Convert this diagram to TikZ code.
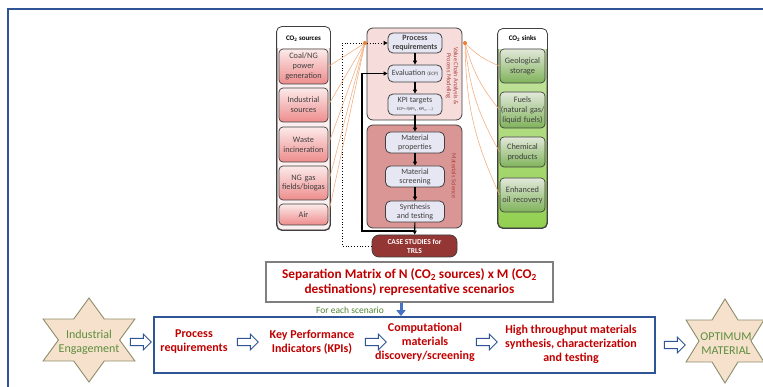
\documentclass[tikz,border=0pt]{standalone}
\usepackage{fontspec}
\setmainfont{Carlito}
\usetikzlibrary{shapes.arrows,arrows.meta,calc}
\definecolor{frameblue}{HTML}{2F5597}
\definecolor{edge}{HTML}{404040}
\definecolor{srctop}{HTML}{FCEAEA}
\definecolor{srcbot}{HTML}{EE8C8C}
\definecolor{srccolfill}{HTML}{FBEFEF}
\definecolor{sinktop}{HTML}{E2E8DA}
\definecolor{sinkbot}{HTML}{7FB35A}
\definecolor{sinkcoltop}{HTML}{CDE7B0}
\definecolor{sinkcolbot}{HTML}{92D050}
\definecolor{vcfill}{HTML}{F6DCDB}
\definecolor{msfill}{HTML}{D99694}
\definecolor{innerfill}{HTML}{E7E6F3}
\definecolor{casered}{HTML}{943634}
\definecolor{labelred}{HTML}{A8423D}
\definecolor{orangeline}{HTML}{F4B183}
\definecolor{orangedot}{HTML}{ED7D31}
\definecolor{darkred}{HTML}{C00000}
\definecolor{sepgray}{HTML}{7F7F7F}
\definecolor{scengreen}{HTML}{548235}
\definecolor{starfill}{HTML}{F6E2CC}
\definecolor{staredge}{HTML}{8C8C6A}
\definecolor{startext}{HTML}{5E8E3E}
\definecolor{arrowblue}{HTML}{4472C4}
\definecolor{txtgray}{HTML}{404040}
\tikzset{
  colbox/.style={draw=edge, line width=0.8pt, rounded corners=5pt, minimum width=53pt, inner sep=0pt},
  hdr/.style={font=\bfseries\fontsize{7}{8}\selectfont, text=black, inner sep=0pt},
  srcbox/.style={draw=edge, line width=0.7pt, rounded corners=4pt, top color=srctop, bottom color=srcbot,
    minimum width=49pt, text width=47pt, align=center, inner sep=0pt, font=\fontsize{8.3}{9.8}\selectfont, text=txtgray},
  sinkbox/.style={srcbox, top color=sinktop, bottom color=sinkbot, minimum width=45pt, text width=45pt},
  panel/.style={draw=edge, line width=0.8pt, rounded corners=6pt, minimum width=95pt, inner sep=0pt},
  innerbox/.style={draw=edge, line width=0.8pt, rounded corners=5pt, fill=innerfill, inner sep=0pt,
    align=center, font=\fontsize{8}{9}\selectfont, text=txtgray},
  flow/.style={line width=1.1pt, -{Triangle[length=4pt,width=4pt]}},
  dotflow/.style={dotted, line width=0.8pt, -{Triangle[length=4pt,width=4pt]}},
  fan/.style={orangeline, line width=0.6pt},
  vlabel/.style={rotate=-90, font=\fontsize{6.3}{7}\selectfont, text=labelred, align=center, inner sep=0pt},
  redtext/.style={font=\bfseries\fontsize{12}{14}\selectfont, text=darkred, align=center, inner sep=0pt},
  septext/.style={font=\bfseries\fontsize{13.3}{15}\selectfont, text=darkred, align=center, inner sep=0pt},
  hollow/.style={single arrow, draw=frameblue, fill=white, line width=0.9pt, minimum height=21pt,
    inner sep=3.2pt, single arrow head extend=4.3pt},
  starshape/.style={draw=staredge, fill=starfill, line width=0.9pt, line join=miter},
  startxt/.style={font=\fontsize{12}{14}\selectfont, text=startext, align=center, inner sep=0pt},
}
\begin{document}
\begin{tikzpicture}[x=1pt,y=-1pt]
\useasboundingbox (0,0) rectangle (763,387);
\clip (0,0) rectangle (763,387);
\fill[white] (0,0) rectangle (763,387);
% outer frame
\draw[frameblue, line width=1.6pt] (8,9) rectangle (800,420);

% ---------- CO2 sources column ----------
\node[colbox, fill=srccolfill, minimum height=203pt] (srccol) at (303.5,128.5) {};
\begin{scope}
  \clip[rounded corners=5pt] (srccol.north west) rectangle (srccol.south east);
  \fill[white] (srccol.north west) rectangle ($(srccol.north east)+(0,21)$);
\end{scope}
\draw[draw=edge, line width=0.8pt, rounded corners=5pt] (srccol.north west) rectangle (srccol.south east);
\node[hdr] (srchdr) at (303.5,39) {CO\textsubscript{2} sources};
\node[srcbox, minimum height=35pt] (coal) at (303.5,66.5) {Coal/NG\\power\\generation};
\node[srcbox, minimum height=34pt] (ind) at (303.5,105) {Industrial\\sources};
\node[srcbox, minimum height=35pt] (waste) at (303.5,144.5) {Waste\\incineration};
\node[srcbox, minimum height=34pt] (ngf) at (303.5,183) {NG gas\\fields/biogas};
\node[srcbox, minimum height=21pt] (air) at (303.5,214.5) {Air};

% ---------- CO2 sinks column ----------
\node[colbox, top color=sinkcoltop, bottom color=sinkcolbot, minimum width=49pt, minimum height=199pt] (sinkcol) at (522.5,128.5) {};
\begin{scope}
  \clip[rounded corners=5pt] (sinkcol.north west) rectangle (sinkcol.south east);
  \fill[white] (sinkcol.north west) rectangle ($(sinkcol.north east)+(0,20)$);
\end{scope}
\draw[draw=edge, line width=0.8pt, rounded corners=5pt] (sinkcol.north west) rectangle (sinkcol.south east);
\node[hdr] (sinkhdr) at (522.5,39) {CO\textsubscript{2} sinks};
\node[sinkbox, minimum height=34pt] (geo) at (522.5,66) {Geological\\storage};
\node[sinkbox, minimum height=36pt] (fuels) at (522.5,110) {Fuels\\(natural gas/\\liquid fuels)};
\node[sinkbox, minimum height=30pt] (chem) at (522.5,152) {Chemical\\products};
\node[sinkbox, minimum height=34pt] (eor) at (522.5,195) {Enhanced\\oil recovery};

% ---------- panels ----------
\node[panel, fill=vcfill, minimum height=92pt] (vc) at (414.5,74) {};
\node[panel, fill=msfill, minimum height=103pt] (ms) at (414.5,176.5) {};
\node[vlabel] (vclab) at (452,76) {Value Chain Analysis \&\\Process Modeling};
\node[vlabel] (mslab) at (454,176) {Materials Science};

\node[innerbox, minimum width=54pt, minimum height=20pt, font=\bfseries\fontsize{8}{9}\selectfont] (preq) at (415,43) {Process\\requirements};
\node[innerbox, minimum width=54pt, minimum height=17pt] (eval) at (415,73.5) {Evaluation {\fontsize{5}{6}\selectfont(ECP)}};
\node[innerbox, minimum width=54pt, minimum height=21pt] (kpi) at (415,104.5) {KPI targets\\[-1pt]{\fontsize{4.3}{5}\selectfont ECP= f(KPI\textsubscript{1}, KPI\textsubscript{2}, ...)}};
\node[innerbox, minimum width=59pt, minimum height=21pt] (mprop) at (415,142.5) {Material\\properties};
\node[innerbox, minimum width=59pt, minimum height=21pt] (mscr) at (415,176.5) {Material\\screening};
\node[innerbox, minimum width=59pt, minimum height=21pt] (synth) at (415,211.5) {Synthesis\\and testing};
\node[draw=edge, line width=0.8pt, rounded corners=7pt, fill=casered, minimum width=85pt, minimum height=22pt,
  inner sep=0pt, align=center, font=\bfseries\fontsize{7.5}{9}\selectfont, text=white] (cases) at (414.5,246) {CASE STUDIES for\\TRLS};

% flows
\draw[flow] (preq) -- (eval);
\draw[flow] (eval) -- (kpi);
\draw[flow] (kpi) -- (mprop);
\draw[flow] (mprop) -- (mscr);
\draw[flow] (mscr) -- (synth);
\draw[flow] (synth) -- (cases);
\coordinate (junc) at (415,231);
\coordinate (solx) at (362,0);
\draw[flow] (junc) -| (solx |- eval.west) -- (eval.west);
\coordinate (dotx) at (342,0);
\draw[dotflow] (cases.west) -| (dotx |- preq.west) -- (preq.west);

% orange fans
\coordinate (fanL) at (365,43);
\coordinate (fanR) at (465,43);
\foreach \b in {coal,ind,waste,ngf,air} \draw[fan] (fanL) -- (\b.east);
\foreach \b in {geo,fuels,chem,eor} \draw[fan] (fanR) to[bend right=12] (\b.west);
\fill[orangedot] (fanL) circle (2pt);
\fill[orangedot] (fanR) circle (2pt);

% ---------- separation matrix ----------
\node[draw=sepgray, line width=2pt, minimum width=287pt, minimum height=40pt, inner sep=0pt] (sep) at (409.5,282) {};
\node[septext] (septxt) at (409.5,282) {Separation Matrix of N (CO\textsubscript{2} sources) x M (CO\textsubscript{2}\\destinations) representative scenarios};
\node[font=\fontsize{9.5}{11}\selectfont, text=scengreen, inner sep=0pt] (scen) at (350,310) {For each scenario};

% ---------- bottom process box ----------
\node[draw=frameblue, line width=1.8pt, minimum width=501pt, minimum height=56pt, inner sep=0pt] (bot) at (404.5,345) {};
\coordinate (downx) at (401,0);
\draw[arrowblue, line width=3pt, -{Triangle[length=6pt,width=9pt]}] (sep.south -| downx) -- (bot.north -| downx);

\node[redtext] (tproc) at (194,342) {Process\\requirements};
\node[redtext] (tkpi) at (312,342) {Key Performance\\Indicators (KPIs)};
\node[redtext] (tcomp) at (425,342) {Computational\\materials\\discovery/screening};
\node[redtext] (thts) at (571,344) {High throughput materials\\synthesis, characterization\\and testing};

% stars
\begin{scope}[shift={(89,340)}, xscale=53, yscale=42]
  \draw[starshape] (90:1) -- (60:0.577) -- (30:1) -- (0:0.577) -- (-30:1) -- (-60:0.577) -- (-90:1)
    -- (-120:0.577) -- (-150:1) -- (180:0.577) -- (150:1) -- (120:0.577) -- cycle;
\end{scope}
\node[startxt] (ieng) at (89,342) {Industrial\\Engagement};
\begin{scope}[shift={(725,341)}, xscale=45, yscale=42]
  \draw[starshape] (90:1) -- (60:0.577) -- (30:1) -- (0:0.577) -- (-30:1) -- (-60:0.577) -- (-90:1)
    -- (-120:0.577) -- (-150:1) -- (180:0.577) -- (150:1) -- (120:0.577) -- cycle;
\end{scope}
\node[startxt] (optm) at (726,344) {OPTIMUM\\MATERIAL};

% hollow arrows
\node[hollow] (h1) at (139,342) {};
\node[hollow] (h2) at (246,342) {};
\node[hollow] (h3) at (374,342) {};
\node[hollow] (h4) at (485,342) {};
\node[hollow] (h5) at (673,345) {};
\end{tikzpicture}
\end{document}
